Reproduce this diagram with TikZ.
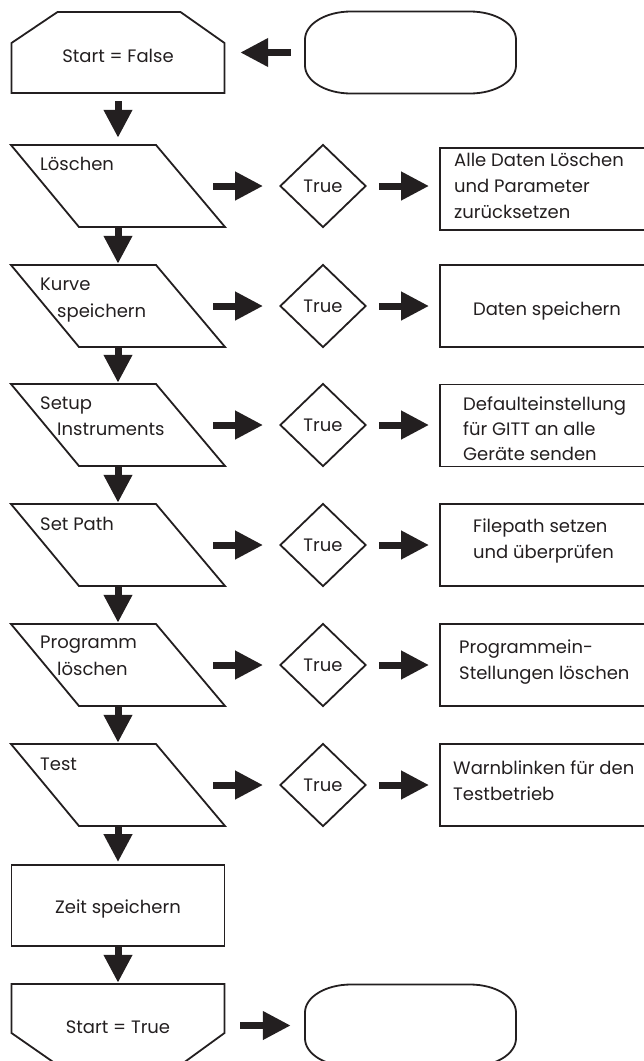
\documentclass[tikz,border=0pt]{standalone}
\usepackage{fontspec}
\setmainfont{Poppins}
\usetikzlibrary{arrows.meta,shapes.geometric,calc}
\definecolor{ink}{RGB}{35,31,32}
\begin{document}
\begin{tikzpicture}[x=1pt,y=-1pt,
  shp/.style={draw=ink,line width=1.8pt,line join=miter},
  box/.style={minimum width=214pt,minimum height=82pt,inner sep=0pt},
  arr/.style={draw=ink,line width=7pt,-{Triangle[length=28pt,width=27pt]}},
  lbl/.style={inner sep=0pt,text=ink,font=\fontsize{18}{22}\selectfont},
  dia/.style={shp,diamond,aspect=1.04,minimum width=86pt,minimum height=83pt,inner sep=0pt,text=ink,font=\fontsize{18}{22}\selectfont},
  res/.style={shp,rectangle,minimum width=214pt,minimum height=82pt,inner sep=0pt}]
\clip (0,0) rectangle (644,1061);
% ---------- top: Start = False and terminal
\node[box,minimum height=81pt] (s1) at (118,52.5) {};
\begin{scope}[shift={(s1.center)}]
  \draw[shp] (-106.5,-9.5) -- (-60.5,-40.5) -- (62.5,-40.5) -- (106.5,-9.5) -- (106.5,40.5) -- (-106.5,40.5) -- cycle;
\end{scope}
\node[lbl,anchor=base] (s1t) at (118,62) {Start = False};
\node[box,minimum width=211pt] (t1) at (410.5,52.5) {};
\begin{scope}[shift={(t1.center)}]
  \draw[shp] (-59.5,-41) -- (59.5,-41) .. controls (84.9,-41) and (105.5,-28.5) .. (105.5,-13) -- (105.5,13)
    .. controls (105.5,28.5) and (84.9,41) .. (59.5,41) -- (-59.5,41) .. controls (-84.9,41) and (-105.5,28.5) .. (-105.5,13)
    -- (-105.5,-13) .. controls (-105.5,-28.5) and (-84.9,-41) .. (-59.5,-41) -- cycle;
\end{scope}
\draw[arr,shorten <=14pt,shorten >=15pt] (t1.west) -- (s1.east);
% ---------- result boxes
\node[res] (r1) at (547,189) {};
\node[res] (r2) at (547,306) {};
\node[res] (r3) at (547,425.5) {};
\node[res] (r4) at (547,545) {};
\node[res] (r5) at (547,665) {};
\node[res] (r6) at (547,785) {};
% ---------- decision rows
\foreach \i/\cy in {1/186,2/306,3/425,4/545,5/665,6/785}{
  \node[box] (p\i) at (118,\cy) {};
  \begin{scope}[shift={(p\i.center)}]
    \draw[shp] (-107,-41) -- (38,-41) -- (107,41) -- (-39,41) -- cycle;
  \end{scope}
  \node[dia] (d\i) at (323,\cy) {True};
  \draw[arr,shorten >=16pt] ([xshift=-12pt]p\i.east) -- (d\i.west);
  \draw[arr,shorten <=12pt,shorten >=10pt] (d\i.east) -- (d\i.east -| r\i.west);
}
\draw[arr,shorten <=8pt,shorten >=7pt] (s1.south) -- (p1.north);
\foreach \i/\j in {1/2,2/3,3/4,4/5,5/6}{
  \draw[arr,shorten >=1pt] (p\i.south) -- (p\j.north);
}
% ---------- labels in parallelograms
\node[lbl,anchor=base west] (p1a) at (40,170) {Löschen};
\node[lbl,anchor=base west] (p2a) at (40,290) {Kurve};
\node[lbl,anchor=base west] (p2b) at (57,317) {speichern};
\node[lbl,anchor=base west] (p3a) at (40,409) {Setup};
\node[lbl,anchor=base west] (p3b) at (57,435) {Instruments};
\node[lbl,anchor=base west] (p4a) at (40,530) {Set Path};
\node[lbl,anchor=base west] (p5a) at (40,648) {Programm};
\node[lbl,anchor=base west] (p5b) at (57,675) {löschen};
\node[lbl,anchor=base west] (p6a) at (40,770) {Test};
% ---------- labels in result boxes
\node[lbl,anchor=base west] (r1a) at (454,166) {Alle Daten Löschen};
\node[lbl,anchor=base west] (r1b) at (454,192) {und Parameter};
\node[lbl,anchor=base west] (r1c) at (454,218) {zurücksetzen};
\node[lbl,anchor=base] (r2a) at (547,315) {Daten speichern};
\node[lbl,anchor=base west] (r3a) at (463,410) {Defaulteinstellung};
\node[lbl,anchor=base west] (r3b) at (463,435) {für GITT an alle};
\node[lbl,anchor=base west] (r3c) at (463,460) {Geräte senden};
\node[lbl,anchor=base west] (r4a) at (473,532) {Filepath setzen};
\node[lbl,anchor=base west] (r4b) at (473,558) {und überprüfen};
\node[lbl,anchor=base west] (r5a) at (459,653) {Programmein-};
\node[lbl,anchor=base west] (r5b) at (459,679) {Stellungen löschen};
\node[lbl,anchor=base west] (r6a) at (453,774) {Warnblinken für den};
\node[lbl,anchor=base west] (r6b) at (453,800) {Testbetrieb};
% ---------- bottom
\node[shp,rectangle,minimum width=213pt,minimum height=81pt,inner sep=0pt] (z) at (118,905.5) {};
\node[lbl,anchor=base] (zt) at (118,913) {Zeit speichern};
\draw[arr,shorten >=2pt] (p6.south) -- (z.north);
\node[box,minimum height=81pt] (s2) at (118,1024.5) {};
\begin{scope}[shift={(s2.center)}]
  \draw[shp] (-106.5,-40.5) -- (106.5,-40.5) -- (106.5,8.5) -- (62.5,40.5) -- (-60.5,40.5) -- (-106.5,8.5) -- cycle;
\end{scope}
\node[lbl,anchor=base] (s2t) at (118,1033) {Start = True};
\draw[arr,shorten >=1pt] (z.south) -- (s2.north);
\node[box,minimum width=211pt] (t2) at (410.5,1025.5) {};
\begin{scope}[shift={(t2.center)}]
  \draw[shp] (-59.5,-41) -- (59.5,-41) .. controls (84.9,-41) and (105.5,-28.5) .. (105.5,-13) -- (105.5,13)
    .. controls (105.5,28.5) and (84.9,41) .. (59.5,41) -- (-59.5,41) .. controls (-84.9,41) and (-105.5,28.5) .. (-105.5,13)
    -- (-105.5,-13) .. controls (-105.5,-28.5) and (-84.9,-41) .. (-59.5,-41) -- cycle;
\end{scope}
\draw[arr,shorten <=15pt,shorten >=14pt] (s2.east |- t2.west) -- (t2.west);
\end{tikzpicture}
\end{document}
